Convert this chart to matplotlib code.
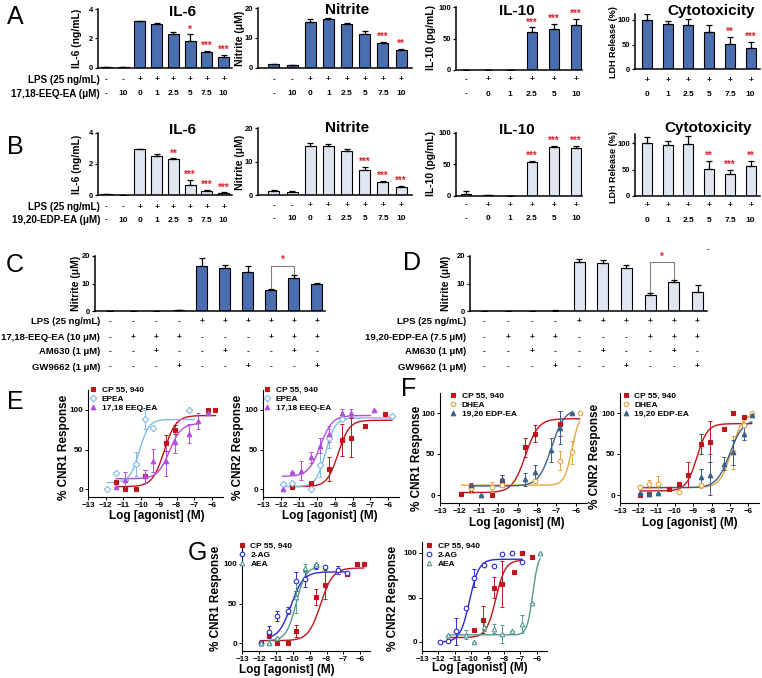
import numpy as np
import matplotlib
matplotlib.use('Agg')
import matplotlib.pyplot as plt

plt.rcParams['font.family'] = ['Liberation Sans', 'DejaVu Sans']
plt.rcParams['font.weight'] = 'bold'

W, H = 762, 678
fig = plt.figure(figsize=(W / 100, H / 100), dpi=100)

blue_bar = '#4a6eb0'
pale_bar = '#dfe5f1'
star_red = '#e0202a'

# ---------------- bar data (panels A-D) ----------------
lps8 = ['-', '-', '+', '+', '+', '+', '+', '+']
dose8 = ['-', '10', '0', '1', '2.5', '5', '7.5', '10']
lps6 = ['-', '+', '+', '+', '+', '+']
dose6 = ['-', '0', '1', '2.5', '5', '10']
lps_cyto = ['+', '+', '+', '+', '+', '+']
dose_cyto = ['0', '1', '2.5', '5', '7.5', '10']

il6_a = [0.05, 0.05, 3.15, 2.98, 2.3, 1.85, 1.07, 0.7]
il6_a_err = [0.02, 0.02, 0.06, 0.05, 0.1, 0.42, 0.07, 0.15]
il6_a_sig = ['', '', '', '', '', '*', '***', '***']
nit_a = [1.1, 0.8, 15.3, 16.3, 14.6, 11.4, 8.3, 6.0]
nit_a_err = [0.2, 0.2, 1.0, 0.5, 0.5, 1.0, 0.4, 0.3]
nit_a_sig = ['', '', '', '', '', '', '***', '**']
il10_a = [0, 0, 0, 61, 66, 71]
il10_a_err = [0, 0, 0, 7, 8, 10]
il10_a_sig = ['', '', '', '***', '***', '***']
cyto_a = [100, 92, 90, 76, 51, 43]
cyto_a_err = [13, 5, 11, 13, 14, 12]
cyto_a_sig = ['', '', '', '', '**', '***']

il6_b = [0.07, 0.04, 2.93, 2.5, 2.3, 0.66, 0.3, 0.12]
il6_b_err = [0.02, 0.01, 0.04, 0.12, 0.06, 0.3, 0.05, 0.06]
il6_b_sig = ['', '', '', '', '**', '***', '***', '***']
nit_b = [1.2, 1.0, 14.7, 14.7, 13.2, 7.4, 3.8, 2.3]
nit_b_err = [0.2, 0.2, 1.0, 0.6, 0.5, 1.0, 0.4, 0.4]
nit_b_sig = ['', '', '', '', '', '***', '***', '***']
il10_b = [2, 1, 0, 53, 77, 75.5]
il10_b_err = [5, 0.5, 0, 2, 2, 3]
il10_b_sig = ['', '', '', '***', '***', '***']
cyto_b = [100, 97, 98, 51, 42, 56]
cyto_b_err = [13, 7, 16, 15, 8, 10]
cyto_b_sig = ['', '', '', '**', '***', '**']

lps10 = ['-', '-', '-', '-', '+', '+', '+', '+', '+', '+']
drug10 = ['-', '+', '+', '+', '-', '-', '-', '+', '+', '+']
am630 = ['-', '-', '+', '-', '-', '+', '-', '-', '+', '-']
gw9662 = ['-', '-', '-', '+', '-', '-', '+', '-', '-', '+']
nit_c = [0.2, 0.2, 0.2, 0.4, 16.3, 15.7, 14.2, 7.7, 12.0, 9.8]
nit_c_err = [0.05, 0.05, 0.05, 0.1, 3.0, 1.0, 2.0, 0.3, 1.0, 0.5]
nit_d = [0.2, 0.2, 0.2, 0.3, 18.0, 17.4, 15.7, 6.1, 10.6, 7.2]
nit_d_err = [0.05, 0.05, 0.05, 0.1, 1.0, 1.0, 0.9, 0.6, 0.7, 2.2]


def px_axes(l, t, r, b):
    return fig.add_axes([l / W, 1 - b / H, (r - l) / W, (b - t) / H])


def bar_panel(box, xlim, ylim, yticks, vals, errs, sig, color, rows, row_ys,
              bar_px=11):
    l, t, r, b = box
    ax = px_axes(l, t, r, b)
    ax.set_xlim(xlim)
    ax.set_ylim(ylim)
    for s in ['top', 'right']:
        ax.spines[s].set_visible(False)
    for s in ['left', 'bottom']:
        ax.spines[s].set_linewidth(1.1)
    ax.set_xticks([])
    ax.set_yticks(yticks)
    ax.tick_params(axis='y', labelsize=5.5, length=2.5, width=0.9, pad=1)
    width = bar_px / ((r - l) / (xlim[1] - xlim[0]))
    x = np.arange(len(vals))
    ax.bar(x, vals, width, color=color, edgecolor='black', linewidth=0.8,
           zorder=2)
    ax.errorbar(x, vals, yerr=[np.zeros(len(errs)), errs], fmt='none',
                ecolor='black', elinewidth=0.9, capsize=2, capthick=0.9,
                zorder=3)
    for i, s in enumerate(sig):
        if s:
            ax.annotate(s, (i, vals[i] + errs[i]), xytext=(0, 0),
                        textcoords='offset points', ha='center', va='bottom',
                        color=star_red, fontsize=7)
    for labels, y in zip(rows, row_ys):
        for i, s in enumerate(labels):
            ax.annotate(s, xy=(i, 0), xycoords=('data', 'axes fraction'),
                        xytext=(0, -(y - b) * 0.72), textcoords='offset points',
                        ha='center', va='center', fontsize=6)
    return ax


# Row A
bar_panel((98, 9, 232, 67.7), (-0.5, 7.5), (0, 4), [0, 2, 4], il6_a, il6_a_err,
          il6_a_sig, blue_bar, [lps8, dose8], [80, 94])
bar_panel((258, 8.3, 412, 67.7), (-0.88, 7.6), (0, 20), [0, 10, 20], nit_a,
          nit_a_err, nit_a_sig, blue_bar, [lps8, dose8], [80, 94])
bar_panel((456, 7.3, 582, 70), (-0.45, 5.27), (0, 100), [0, 50, 100], il10_a,
          il10_a_err, il10_a_sig, blue_bar, [lps6, dose6], [80, 94], bar_px=10)
bar_panel((635, 14, 760, 69.3), (-0.58, 5.45), (0, 112), [0, 50, 100], cyto_a,
          cyto_a_err, cyto_a_sig, blue_bar, [lps_cyto, dose_cyto], [80, 94],
          bar_px=10)

# Row B
bar_panel((98, 132.7, 232, 195.3), (-0.5, 7.5), (0, 4), [0, 2, 4], il6_b,
          il6_b_err, il6_b_sig, pale_bar, [lps8, dose8], [207, 220])
bar_panel((258, 128.3, 412, 195), (-0.88, 7.6), (0, 20), [0, 10, 20], nit_b,
          nit_b_err, nit_b_sig, pale_bar, [lps8, dose8], [206, 219])
bar_panel((456, 132.7, 582, 195.7), (-0.45, 5.27), (0, 100), [0, 50, 100],
          il10_b, il10_b_err, il10_b_sig, pale_bar, [lps6, dose6], [205, 219],
          bar_px=10)
bar_panel((635, 134, 760, 195.7), (-0.58, 5.45), (0, 118), [0, 50, 100], cyto_b,
          cyto_b_err, cyto_b_sig, pale_bar, [lps_cyto, dose_cyto], [205, 220],
          bar_px=10)

# Row C / D
rows4 = [lps10, drug10, am630, gw9662]
ax_c = bar_panel((95, 255.7, 325, 311.5), (-0.65, 9.35), (0, 20), [0, 10, 20],
                 nit_c, nit_c_err, [''] * 10, blue_bar, rows4,
                 [322, 338, 352, 367])
ax_d = bar_panel((470, 256, 707, 311.5), (-0.6, 9.4), (0, 20), [0, 10, 20],
                 nit_d, nit_d_err, [''] * 10, pale_bar, rows4,
                 [322, 338, 352, 367])

# significance brackets (C, D)
for ax, top, l_low, r_low in [(ax_c, 16.4, 8.6, 13.6), (ax_d, 17.8, 7.0, 11.8)]:
    ax.plot([7, 7, 8, 8], [l_low, top, top, r_low], color='#808080', lw=0.8,
            zorder=4)
    ax.annotate('*', (7.5, top), xytext=(0, 0.5), textcoords='offset points',
                ha='center', va='bottom', color=star_red, fontsize=7)

# bar titles & labels
titles = [('IL-6', 182, 12), ('Nitrite', 347, 10), ('IL-10', 517, 11),
          ('Cytotoxicity', 711, 11),
          ('IL-6', 182, 130), ('Nitrite', 347, 128), ('IL-10', 517, 130),
          ('Cytotoxicity', 708, 128)]
for s, x, y in titles:
    fig.text(x / W, 1 - y / H, s, ha='center', va='center', fontsize=11,
             fontweight='bold')

ylabels = [('IL-6 (ng/mL)', 77, 38, 7.5), ('Nitrite (μM)', 240, 38, 7.5),
           ('IL-10 (pg/mL)', 431, 38, 7.5), ('LDH Release (%)', 613, 42, 6.5),
           ('IL-6 (ng/mL)', 77, 164, 7.5), ('Nitrite (μM)', 240, 162, 7.5),
           ('IL-10 (pg/mL)', 431, 164, 7.5), ('LDH Release (%)', 613, 167, 6.5),
           ('Nitrite (μM)', 76, 283, 7.5), ('Nitrite (μM)', 446, 283, 7.5)]
for s, x, y, fs in ylabels:
    fig.text(x / W, 1 - y / H, s, ha='center', va='center', rotation=90,
             fontsize=fs, fontweight='bold')

row_texts = [('LPS (25 ng/mL)', 100, 80, 7.1), ('17,18-EEQ-EA (μM)', 100, 94, 7.1),
             ('LPS (25 ng/mL)', 100, 207, 7.1), ('19,20-EDP-EA (μM)', 100, 220, 7.1),
             ('LPS (25 ng/mL)', 100, 322, 6.8), ('17,18-EEQ-EA (10 μM)', 100, 338, 6.8),
             ('AM630 (1 μM)', 100, 352, 6.8), ('GW9662 (1 μM)', 100, 367, 6.8),
             ('LPS (25 ng/mL)', 466, 322, 6.8), ('19,20-EDP-EA (7.5 μM)', 466, 338, 6.8),
             ('AM630 (1 μM)', 466, 352, 6.8), ('GW9662 (1 μM)', 466, 367, 6.8)]
for s, x, y, fs in row_texts:
    fig.text(x / W, 1 - y / H, s, ha='right', va='center', fontsize=fs,
             fontweight='bold')
fig.text(708 / W, 1 - 250 / H, '-', ha='center', va='center', fontsize=6)

for s, x, y in [('A', 15, 17), ('B', 15, 147), ('C', 15, 265), ('D', 412, 263),
                ('E', 15, 402), ('F', 409, 389), ('G', 197, 553)]:
    fig.text(x / W, 1 - y / H, s, ha='center', va='center', fontsize=18,
             fontweight='normal')

# ---------------- dose-response data (panels E-G) ----------------
cp_color = '#c0141c'
epea_color = '#80b9e6'
eeq_color = '#b44ddf'
dhea_color = '#e8a33d'
edp_color = '#3a5f8a'
ag_color = '#2b2bcc'
aea_color = '#529a90'

# E, CNR1
cp_e1_x = [-11.4, -10.9, -10.3, -9.8, -8.6, -8.1, -6.2, -5.8]
cp_e1_y = [9, 0, 0, 16, 58, 75, 100, 100]
cp_e1_err = [3, 0, 0, 8, 10, 6, 0, 0]
epea_e1_x = [-11.9, -11.4, -10.9, -10.3, -9.8, -9.3, -7.3]
epea_e1_y = [0, 20, 12, 32, 88, 77, 100]
epea_e1_err = [0, 0, 0, 15, 12, 0, 0]
eeq_e1_x = [-11.4, -10.9, -9.8, -9.3, -8.6, -8.1, -7.3, -6.8, -6.2]
eeq_e1_y = [2, 12, 16, 36, 36, 60, 70, 86, 96]
eeq_e1_err = [0, 10, 8, 15, 20, 15, 12, 10, 0]
# E, CNR2
cp_e2_x = [-11.4, -10.3, -9.3, -8.6, -8.1, -7.3, -6.2]
cp_e2_y = [2, 7, 25, 62, 65, 80, 95]
cp_e2_err = [0, 0, 15, 20, 25, 0, 0]
epea_e2_x = [-11.9, -11.4, -10.3, -9.8, -9.3, -8.6, -5.8]
epea_e2_y = [6, 8, 0, 30, 64, 88, 93]
epea_e2_err = [0, 0, 0, 15, 12, 0, 0]
eeq_e2_x = [-11.9, -11.4, -10.9, -10.3, -9.8, -9.3, -8.6, -8.1, -6.8]
eeq_e2_y = [0, 21, 23, 40, 55, 70, 96, 96, 100]
eeq_e2_err = [0, 0, 12, 7, 10, 10, 5, 5, 0]
# F, CNR1
cp_f1_x = [-11.9, -11.4, -10.3, -9.8, -8.6, -8.1, -6.8]
cp_f1_y = [1, 10, 0, 17, 58, 75, 87]
cp_f1_err = [0, 5, 0, 7, 12, 10, 15]
dhea_f1_x = [-11.4, -10.3, -9.8, -8.1, -6.8, -6.2, -5.8]
dhea_f1_y = [8, 10, 12, 17, 42, 52, 100]
dhea_f1_err = [5, 6, 0, 0, 12, 14, 0]
edp_f1_x = [-11.4, -10.9, -9.8, -8.6, -8.1, -7.3, -6.8, -6.2]
edp_f1_y = [12, 0, 20, 19, 28, 55, 82, 100]
edp_f1_err = [0, 0, 5, 8, 8, 15, 20, 0]
# F, CNR2
cp_f2_x = [-11.9, -11.4, -10.3, -9.8, -9.3, -8.6, -8.1, -7.3, -6.8, -6.2]
cp_f2_y = [0, 1, 7, 13, 25, 62, 65, 80, 100, 95]
cp_f2_err = [0, 0, 0, 0, 15, 12, 25, 0, 0, 0]
dhea_f2_x = [-11.9, -11.4, -10.9, -9.8, -8.6, -6.8, -6.2, -5.8]
dhea_f2_y = [10, 13, 13, 4, 12, 52, 85, 100]
dhea_f2_err = [0, 5, 10, 0, 3, 20, 10, 0]
edp_f2_x = [-11.9, -11.4, -10.9, -8.6, -8.1, -7.3, -6.8, -6.2, -5.8]
edp_f2_y = [3, 1, 3, 22, 25, 38, 52, 75, 97]
edp_f2_err = [0, 0, 0, 10, 25, 8, 15, 8, 0]
# G, CNR1
cp_g1_x = [-11.9, -11.4, -10.9, -10.3, -9.8, -8.6, -8.1, -6.8, -6.2, -5.8]
cp_g1_y = [0, 10, 0, 0, 15, 58, 74, 87, 100, 100]
cp_g1_err = [0, 0, 0, 0, 8, 10, 18, 0, 0, 0]
ag_g1_x = [-11.9, -11.4, -10.9, -10.3, -9.8, -9.3, -8.6, -8.1, -7.3, -6.8]
ag_g1_y = [0, 14, 34, 41, 78, 81, 97, 96, 92, 88]
ag_g1_err = [0, 8, 6, 4, 12, 10, 3, 0, 5, 0]
aea_g1_x = [-11.9, -11.4, -10.9, -9.8, -9.3, -8.6]
aea_g1_y = [0, 0, 6, 58, 95, 100]
aea_g1_err = [0, 0, 0, 20, 5, 0]
# G, CNR2
cp_g2_x = [-9.8, -9.3, -8.6, -8.1, -7.4, -6.9, -6.3]
cp_g2_y = [13, 25, 61, 65, 79, 100, 95]
cp_g2_err = [0, 15, 12, 26, 0, 0, 0]
ag_g2_x = [-11.9, -11.4, -10.9, -10.3, -9.8, -9.2, -8.6, -8.1, -7.5, -6.9]
ag_g2_y = [0, 1, 12, 38, 72, 87, 85, 99, 100, 90]
ag_g2_err = [0, 0, 15, 0, 10, 0, 0, 0, 0, 0]
aea_g2_x = [-11.4, -10.3, -9.8, -9.2, -8.6, -8.1, -7.5, -6.9, -6.3, -5.8]
aea_g2_y = [8, 8, 0, 17, 15, 9, 12, 20, 44, 100]
aea_g2_err = [0, 5, 0, 5, 5, 10, 0, 10, 0, 0]

# fitted curve parameters: bottom, top, logEC50, hill, x start, x end
fit_cp_e1 = [3, 93, -8.7, 1.3, -11.4, -5.8]
fit_epea_e1 = [8, 88, -10.1, 1.6, -11.9, -7.0]
fit_eeq_e1 = [13, 83, -8.4, 1.3, -11.4, -6.8]
fit_cp_e2 = [3, 87, -8.8, 1.4, -11.4, -5.8]
fit_epea_e2 = [3, 90, -9.5, 1.6, -11.9, -5.8]
fit_eeq_e2 = [16, 93, -9.8, 1.3, -11.9, -7.0]
fit_cp_f1 = [3, 93, -8.6, 1.3, -11.9, -5.8]
fit_dhea_f1 = [12, 100, -6.2, 2.2, -11.9, -5.8]
fit_edp_f1 = [11, 105, -7.25, 1.3, -11.4, -6.2]
fit_cp_f2 = [5, 87, -8.8, 1.5, -11.9, -5.8]
fit_dhea_f2 = [9, 100, -6.9, 1.4, -11.9, -5.8]
fit_edp_f2 = [9, 92, -7.0, 1.2, -11.9, -5.8]
fit_cp_g1 = [3, 95, -8.35, 1.2, -11.9, -5.8]
fit_ag_g1 = [5, 90, -10.1, 1.2, -11.5, -6.8]
fit_aea_g1 = [3, 97, -9.8, 1.5, -11.4, -8.6]
fit_cp_g2 = [5, 92, -8.5, 1.5, -11.5, -6.9]
fit_ag_g2 = [0, 93, -10.1, 1.5, -11.9, -6.9]
fit_aea_g2 = [8, 100, -6.25, 2.5, -11.4, -5.8]


def dr_axes(x13, ppd, y0, ppu, ylim=(-10, 125)):
    xlim = (-13, -5.4)
    l = x13
    r = x13 + (xlim[1] - xlim[0]) * ppd
    t = y0 - ylim[1] * ppu
    b = y0 - ylim[0] * ppu
    ax = px_axes(l, t, r, b)
    ax.set_xlim(xlim)
    ax.set_ylim(ylim)
    for s in ['top', 'right']:
        ax.spines[s].set_visible(False)
    for s in ['left', 'bottom']:
        ax.spines[s].set_linewidth(0.8)
    ax.set_xticks(range(-13, -5))
    ax.set_yticks([0, 50, 100])
    ax.tick_params(labelsize=5.8, length=2.5, width=0.7, pad=1.2)
    return ax


def series(ax, x, y, err, fit, color, marker, label, filled=True):
    xs = np.linspace(fit[4], fit[5], 200)
    ys = fit[0] + (fit[1] - fit[0]) / (1 + 10 ** ((fit[2] - xs) * fit[3]))
    ax.plot(xs, ys, color=color, lw=1.0, zorder=2)
    ax.errorbar(x, y, yerr=err, fmt='none', ecolor=color, elinewidth=0.7,
                capsize=1.5, capthick=0.7, zorder=3)
    h, = ax.plot(x, y, linestyle='none', marker=marker, ms=3.3, color=color,
                 mfc=color if filled else 'white', mew=0.8, label=label,
                 zorder=4)
    return h


def dr_labels(ax, ylab, yl_xy, xl_xy, leg_xy, handles):
    fig.text(yl_xy[0] / W, 1 - yl_xy[1] / H, ylab, rotation=90, ha='center',
             va='center', fontsize=8.5, fontweight='bold')
    fig.text(xl_xy[0] / W, 1 - xl_xy[1] / H, 'Log [agonist] (M)', ha='center',
             va='center', fontsize=8.5, fontweight='bold')
    ax.legend(handles=handles, loc='upper left',
              bbox_to_anchor=(leg_xy[0] / W, 1 - leg_xy[1] / H),
              bbox_transform=fig.transFigure, frameon=False, fontsize=6,
              handlelength=1.0, handletextpad=0.5, labelspacing=0.12,
              borderpad=0, borderaxespad=0)


# E left
ax = dr_axes(88, 17.7, 489, 0.79)
hs = [series(ax, cp_e1_x, cp_e1_y, cp_e1_err, fit_cp_e1, cp_color, 's', 'CP 55, 940'),
      series(ax, epea_e1_x, epea_e1_y, epea_e1_err, fit_epea_e1, epea_color, 'D', 'EPEA', False),
      series(ax, eeq_e1_x, eeq_e1_y, eeq_e1_err, fit_eeq_e1, eeq_color, '^', '17,18 EEQ-EA')]
dr_labels(ax, '% CNR1 Response', (64, 447), (157, 516), (89, 386), hs)

# E right
ax = dr_axes(263, 17.9, 489, 0.79)
hs = [series(ax, cp_e2_x, cp_e2_y, cp_e2_err, fit_cp_e2, cp_color, 's', 'CP 55, 940'),
      series(ax, epea_e2_x, epea_e2_y, epea_e2_err, fit_epea_e2, epea_color, 'D', 'EPEA', False),
      series(ax, eeq_e2_x, eeq_e2_y, eeq_e2_err, fit_eeq_e2, eeq_color, '^', '17,18 EEQ-EA')]
dr_labels(ax, '% CNR2 Response', (238, 447), (330, 516), (263, 386), hs)

# F left
ax = dr_axes(440, 19.4, 495, 0.82)
hs = [series(ax, cp_f1_x, cp_f1_y, cp_f1_err, fit_cp_f1, cp_color, 's', 'CP 55, 940'),
      series(ax, dhea_f1_x, dhea_f1_y, dhea_f1_err, fit_dhea_f1, dhea_color, 'o', 'DHEA', False),
      series(ax, edp_f1_x, edp_f1_y, edp_f1_err, fit_edp_f1, edp_color, '^', '19,20 EDP-EA')]
dr_labels(ax, '% CNR1 Response', (417, 458), (517, 523), (449, 392), hs)

# F right
ax = dr_axes(620, 18.3, 495, 0.82)
hs = [series(ax, cp_f2_x, cp_f2_y, cp_f2_err, fit_cp_f2, cp_color, 's', 'CP 55, 940'),
      series(ax, dhea_f2_x, dhea_f2_y, dhea_f2_err, fit_dhea_f2, dhea_color, 'o', 'DHEA', False),
      series(ax, edp_f2_x, edp_f2_y, edp_f2_err, fit_edp_f2, edp_color, '^', '19,20 EDP-EA')]
dr_labels(ax, '% CNR2 Response', (595, 456), (690, 523), (622, 392), hs)

# G left
ax = dr_axes(242, 16.9, 643, 0.79)
hs = [series(ax, cp_g1_x, cp_g1_y, cp_g1_err, fit_cp_g1, cp_color, 's', 'CP 55, 940'),
      series(ax, ag_g1_x, ag_g1_y, ag_g1_err, fit_ag_g1, ag_color, 'o', '2-AG', False),
      series(ax, aea_g1_x, aea_g1_y, aea_g1_err, fit_aea_g1, aea_color, '^', 'AEA', False)]
dr_labels(ax, '% CNR1 Response', (216, 598), (287, 670), (238, 542), hs)

# G right
ax = dr_axes(422, 16.4, 642, 0.89, ylim=(-10, 112))
hs = [series(ax, cp_g2_x, cp_g2_y, cp_g2_err, fit_cp_g2, cp_color, 's', 'CP 55, 940'),
      series(ax, ag_g2_x, ag_g2_y, ag_g2_err, fit_ag_g2, ag_color, 'o', '2-AG', False),
      series(ax, aea_g2_x, aea_g2_y, aea_g2_err, fit_aea_g2, aea_color, '^', 'AEA', False)]
dr_labels(ax, '% CNR2 Response', (393, 598), (480, 668), (425, 542), hs)

fig.savefig('out.png', dpi=100, facecolor='white')
